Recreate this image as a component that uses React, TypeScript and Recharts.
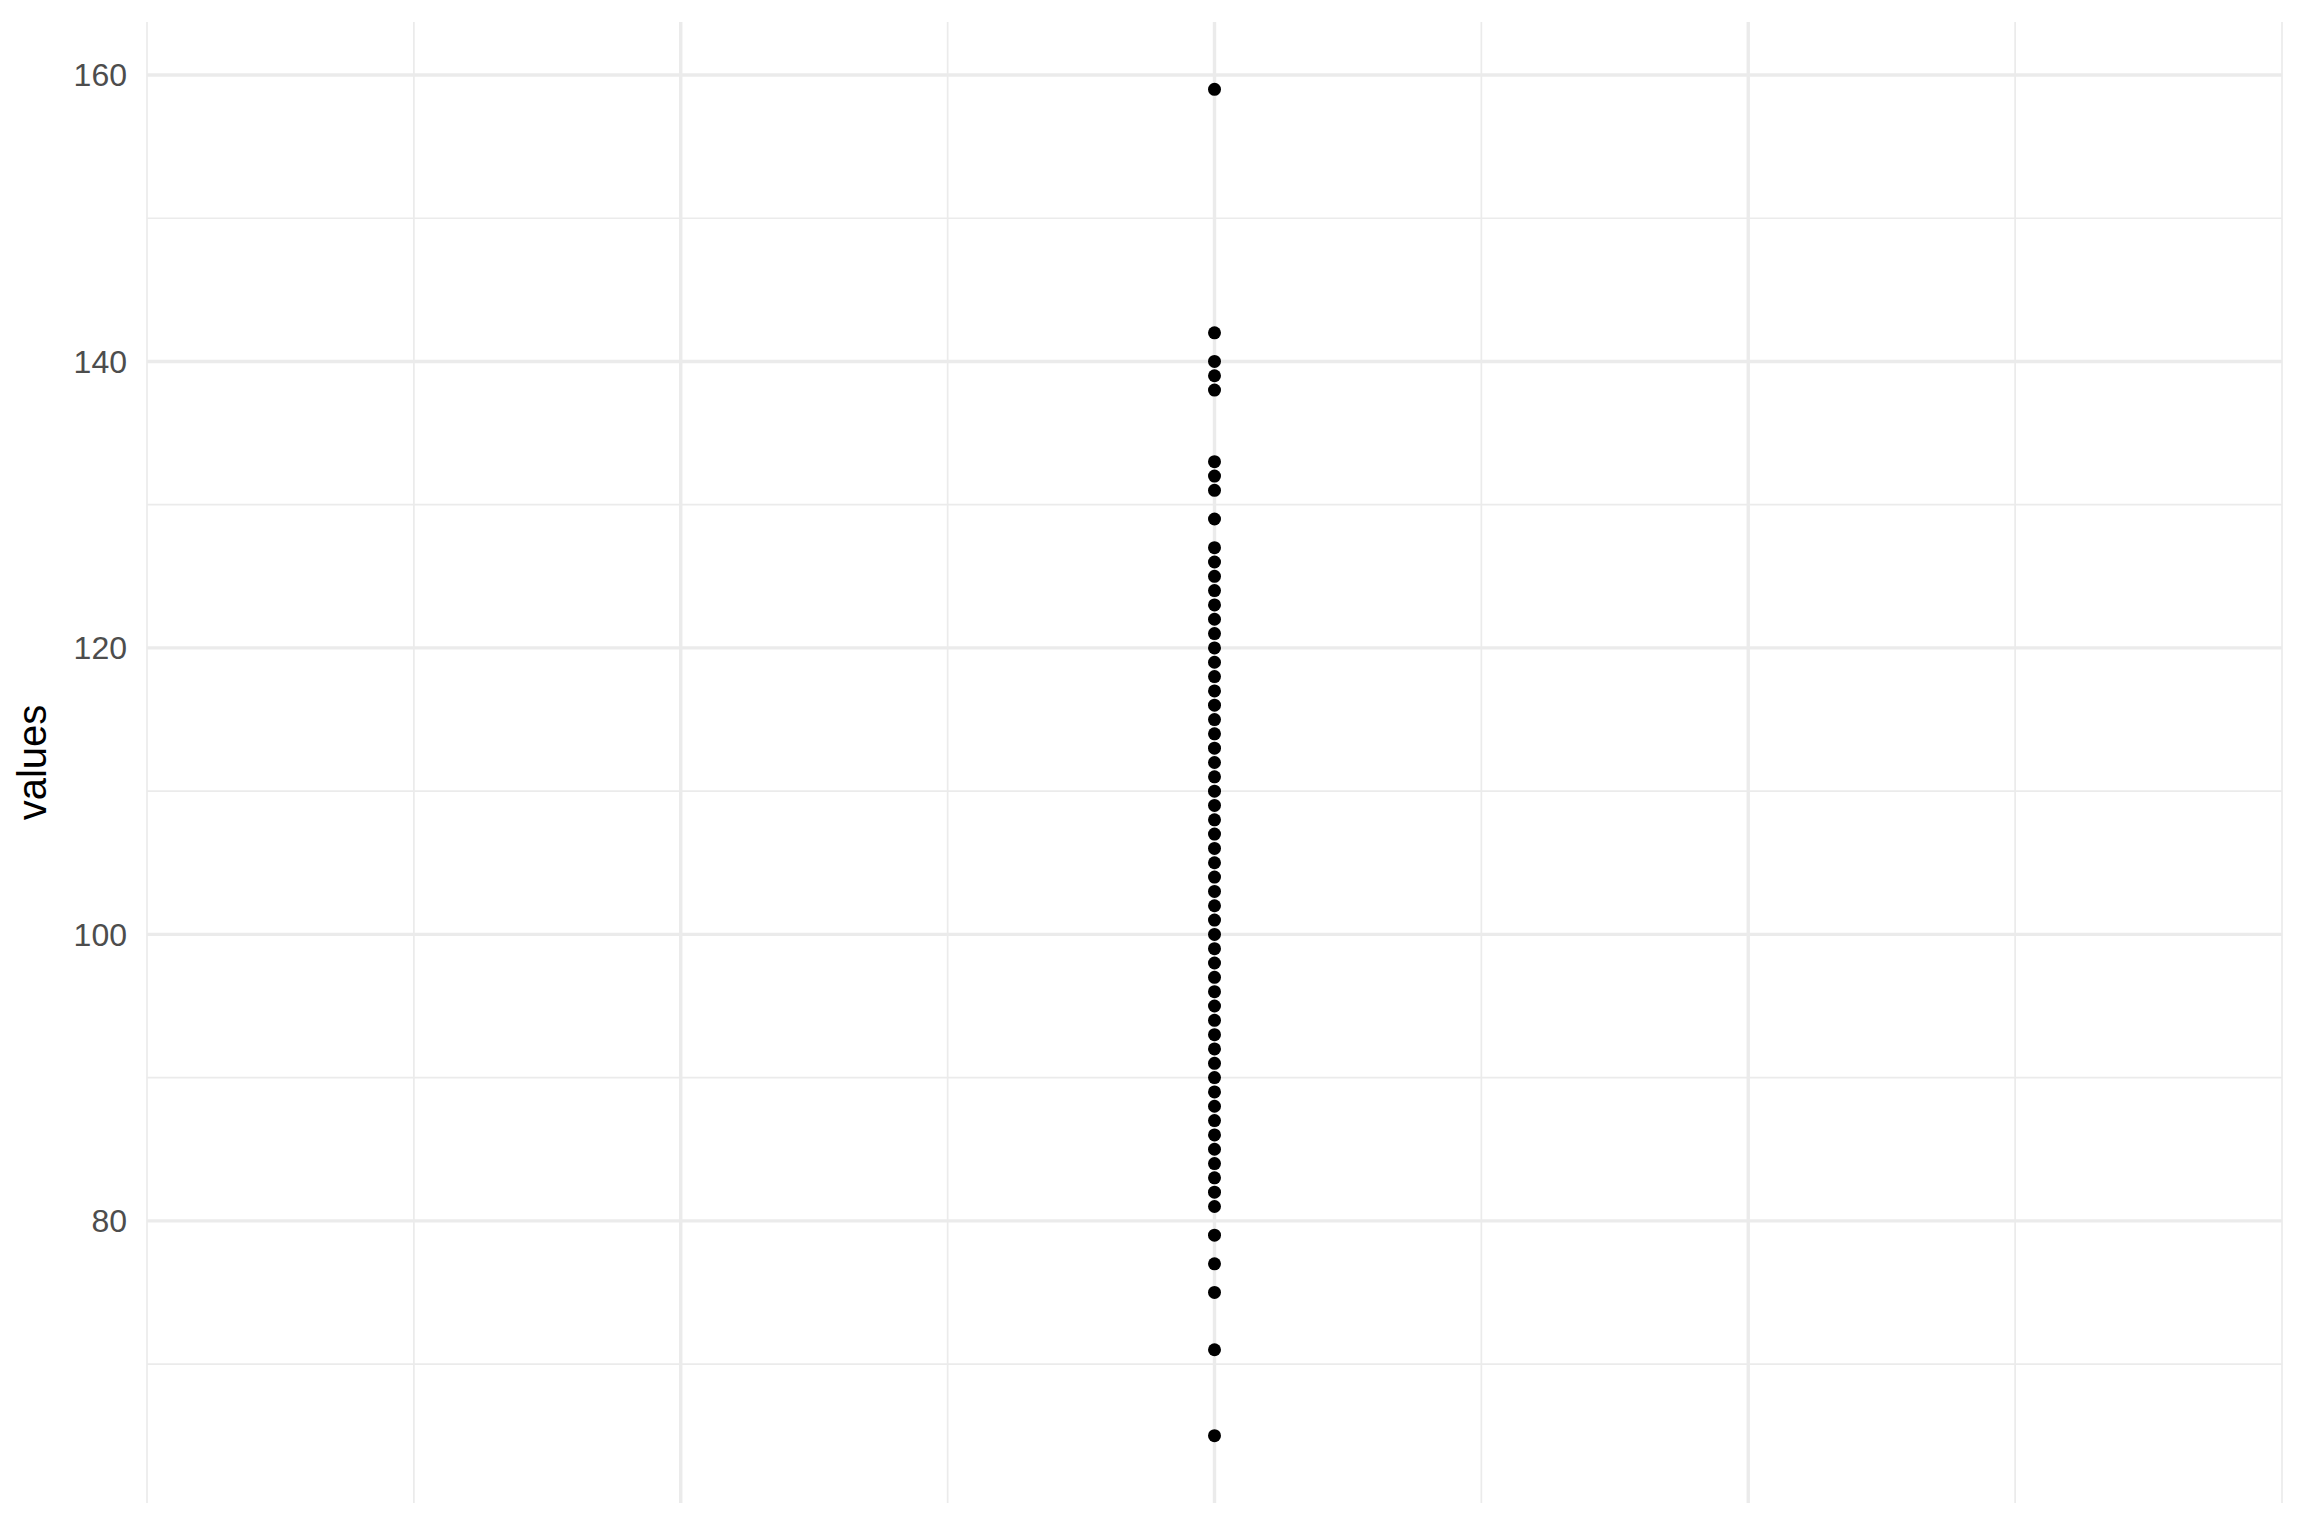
import { ReferenceLine, Scatter, ScatterChart, XAxis, YAxis } from "recharts";

// values, all at one x position
const values = [
  159, 142, 140, 139, 138, 133, 132, 131, 129,
  127, 126, 125, 124, 123, 122, 121, 120, 119, 118, 117, 116, 115, 114, 113, 112,
  111, 110, 109, 108, 107, 106, 105, 104, 103, 102, 101, 100, 99, 98, 97, 96, 95,
  94, 93, 92, 91, 90, 89, 88, 87, 86, 85, 84, 83, 82, 81,
  79, 77, 75, 71, 65,
];
const xPosition = 1;

const xDomain = [0.5, 1.5];
const xMajorBreaks = [0.5, 0.75, 1, 1.25, 1.5];
const xMinorBreaks = [0.625, 0.875, 1.125, 1.375];

const yDomain = [60.3, 163.7];
const yMajorBreaks = [80, 100, 120, 140, 160];
const yMinorBreaks = [70, 90, 110, 130, 150];

const points = values.map((v) => ({ x: xPosition, y: v }));

const gridColor = "#EBEBEB";
const majorWidth = 3.4;
const minorWidth = 1.7;
const font = "'Liberation Sans', Arial, Helvetica, sans-serif";

const Dot = (props: any) => <circle cx={props.cx} cy={props.cy} r={6.5} fill="#000000" />;

export default function App() {
  return (
    <div style={{ position: "absolute", left: 0, top: 0, background: "#fff" }}>
      <ScatterChart
        width={2304}
        height={1536}
        margin={{ top: 22, right: 22, bottom: 33, left: 0 }}
      >
        <XAxis type="number" dataKey="x" domain={xDomain} ticks={xMajorBreaks}
               allowDataOverflow hide />
        <YAxis type="number" dataKey="y" domain={yDomain} ticks={yMajorBreaks}
               allowDataOverflow width={147} axisLine={false} tickLine={false}
               tickSize={0} tickMargin={20}
               tick={{ fontSize: 32, fill: "#4D4D4D", fontFamily: font }}
               label={{
                 value: "values",
                 angle: -90,
                 position: "insideLeft",
                 offset: 32,
                 style: { textAnchor: "middle", fontSize: 40, fill: "#000", fontFamily: font },
               }}
        />

        {/* ggplot-style grid: thin minor lines, thicker major lines */}
        {yMinorBreaks.map((v) => (
          <ReferenceLine key={"ym" + v} y={v} stroke={gridColor} strokeWidth={minorWidth} />
        ))}
        {xMinorBreaks.map((v) => (
          <ReferenceLine key={"xm" + v} x={v} stroke={gridColor} strokeWidth={minorWidth} />
        ))}
        {yMajorBreaks.map((v) => (
          <ReferenceLine key={"yM" + v} y={v} stroke={gridColor} strokeWidth={majorWidth} />
        ))}
        {xMajorBreaks.map((v) => (
          <ReferenceLine key={"xM" + v} x={v} stroke={gridColor}
                         strokeWidth={v === xDomain[0] || v === xDomain[1] ? minorWidth : majorWidth} />
        ))}

        <Scatter data={points} shape={Dot} isAnimationActive={false} />
      </ScatterChart>
    </div>
  );
}
